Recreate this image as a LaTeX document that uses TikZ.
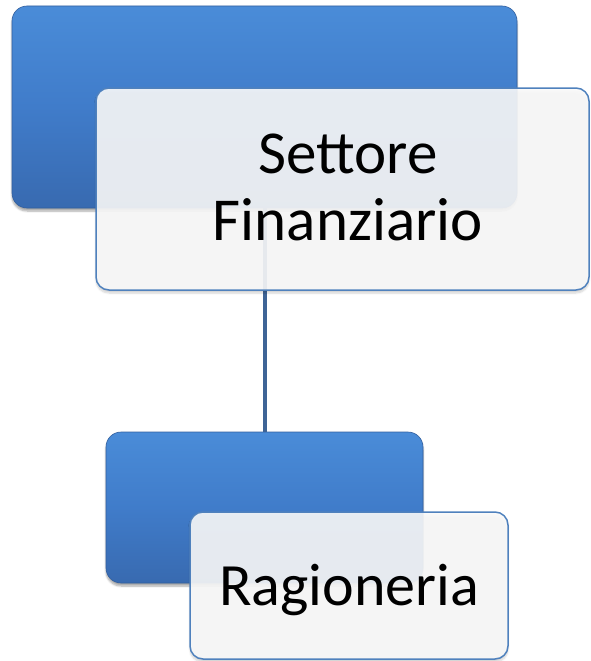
\documentclass[tikz,border=0pt]{standalone}
\usepackage{fontspec}
\setmainfont{Carlito}
\usetikzlibrary{shadows.blur}
\definecolor{bluetop}{RGB}{74,140,216}
\definecolor{bluemid}{RGB}{64,124,202}
\definecolor{bluebot}{RGB}{56,106,176}
\definecolor{boxline}{RGB}{79,129,189}
\definecolor{boxfill}{RGB}{250,250,250}
\definecolor{linkcol}{RGB}{62,100,150}
\tikzset{
  bluebox/.style={rectangle, rounded corners=15pt, inner sep=0pt,
    top color=bluetop, bottom color=bluebot, middle color=bluemid,
    draw=bluebot!90!black, line width=0.6pt,
    blur shadow={shadow xshift=0pt, shadow yshift=-3pt, shadow opacity=35, shadow blur steps=6}},
  whitebox/.style={rectangle, rounded corners=13pt, inner sep=0pt,
    fill=boxfill, fill opacity=0.9, draw=boxline, draw opacity=1, line width=1.5pt,
    blur shadow={shadow xshift=0pt, shadow yshift=-3pt, shadow opacity=20, shadow blur steps=6}},
  link/.style={draw=linkcol, line width=4pt},
  lbl/.style={inner sep=0pt, text=black, align=center}
}
\begin{document}
\begin{tikzpicture}[x=1pt,y=-1pt]
\useasboundingbox (0,0) rectangle (590,661);
\node[bluebox, minimum width=505pt, minimum height=202pt] (b1) at (264.5,107) {};
\node[bluebox, minimum width=317pt, minimum height=151pt] (b2) at (264.5,507.5) {};
\draw[link] (b1.south) -- (b2.north);
\node[whitebox, minimum width=493pt, minimum height=202pt] (w1) at (342.5,189) {};
\node[whitebox, minimum width=318pt, minimum height=147pt] (w2) at (349,585.5) {};
\node[lbl, font=\fontsize{61pt}{67pt}\selectfont] (t1) at (348,187) {Settore\\Finanziario};
\node[lbl, anchor=base, font=\fontsize{60pt}{66pt}\selectfont] (t2) at (349,605) {Ragioneria};
\end{tikzpicture}
\end{document}
